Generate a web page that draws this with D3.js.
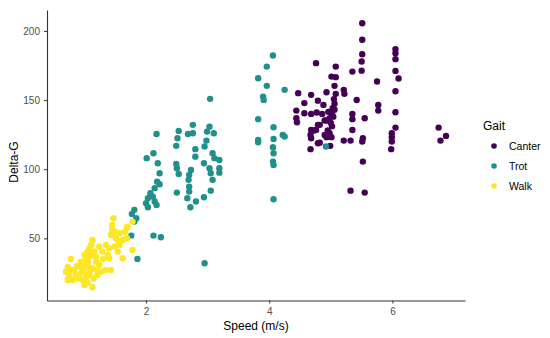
<!DOCTYPE html>
<html>
<head>
<meta charset="utf-8">
<script src="https://cdn.jsdelivr.net/npm/d3@7"></script>
<style>
  body { margin: 0; background: #fff; }
  text { font-family: "Liberation Sans", Arial, sans-serif; }
</style>
</head>
<body>
<div id="chart"></div>
<script>
// Gait categories and colours (viridis, 3 levels)
var gaits = ["Canter", "Trot", "Walk"];
var gaitColors = ["#440154", "#21908C", "#FDE725"];

// Walk points: speed (m/s) and Delta-G
var walkSpeed = [1.47, 1.45, 1.69, 1.49, 1.66, 1.43, 1.57, 1.51, 1.62, 1.69, 1.35, 1.40, 1.49, 1.57, 1.54, 1.62, 1.78, 1.13, 1.11, 1.08,
  1.24, 1.29, 1.38, 1.40, 1.05, 1.00, 1.02, 1.08, 1.13, 1.19, 1.19, 1.24, 1.21, 1.13, 1.05, 1.00, 0.97, 1.02, 1.08, 1.02,
  1.00, 1.13, 1.21, 1.34, 1.43, 0.78, 0.73, 0.70, 0.78, 0.83, 0.86, 0.75, 0.73, 0.81, 0.89, 0.92, 0.94, 0.97, 1.78, 1.70,
  0.92, 0.95, 1.16, 1.10, 1.30, 1.55, 1.45, 1.05, 0.88, 1.27, 1.06, 1.15];
var walkDeltaG = [64.5, 59.7, 58.0, 54.8, 54.8, 52.5, 53.7, 50.1, 48.8, 50.1, 45.2, 42.8, 44.0, 45.2, 40.4, 35.6, 41.6, 48.8, 45.2, 42.8,
  44.0, 40.4, 38.0, 35.6, 40.4, 38.0, 34.4, 36.8, 38.0, 36.8, 33.1, 30.8, 27.1, 28.4, 29.5, 30.8, 27.1, 24.7, 23.5, 21.1,
  16.3, 14.6, 23.5, 27.1, 27.1, 35.1, 29.1, 25.9, 27.1, 27.1, 23.5, 23.5, 19.9, 19.9, 21.1, 29.5, 33.1, 19.9, 62.1, 58.5,
  24.0, 31.0, 40.5, 27.0, 35.0, 48.0, 56.0, 18.0, 30.0, 26.0, 32.5, 21.0];

// Trot points
var trotSpeed = [2.17, 2.53, 2.51, 2.68, 2.76, 2.76, 3.03, 2.99, 3.10, 2.49, 2.80, 2.98, 2.95, 2.01, 2.12, 2.19, 2.49, 2.50, 2.53, 2.80,
  2.94, 3.08, 3.11, 3.19, 3.03, 3.05, 3.19, 3.19, 3.08, 2.73, 2.70, 2.69, 2.70, 2.70, 2.67, 2.72, 2.81, 2.94, 3.05, 2.50,
  2.22, 2.18, 2.22, 2.14, 2.07, 2.03, 2.11, 2.14, 2.17, 2.00, 2.03, 1.81, 1.77, 1.84, 1.81, 1.76, 2.12, 2.24, 3.04, 2.95,
  1.86, 4.06, 3.96, 3.82, 3.96, 4.25, 3.90, 3.91, 3.82, 3.82, 3.82, 4.07, 4.07, 4.22, 4.25, 4.06, 4.07, 4.06, 4.07, 4.07,
  4.92];
var trotDeltaG = [125.5, 127.7, 122.4, 125.5, 132.1, 126.0, 130.8, 127.2, 126.0, 116.9, 114.5, 120.7, 116.4, 108.0, 111.6, 104.3, 103.8, 100.7, 96.6, 109.1,
  104.3, 111.6, 108.0, 106.7, 100.7, 97.1, 100.7, 97.5, 92.3, 99.5, 95.9, 92.3, 87.4, 83.8, 79.0, 72.5, 76.6, 79.7, 84.5, 83.1,
  97.1, 91.0, 89.1, 86.3, 82.6, 79.0, 80.2, 76.6, 74.2, 75.4, 72.5, 70.6, 67.7, 64.5, 62.1, 52.0, 52.0, 50.8, 150.9, 32.0,
  35.1, 182.2, 174.2, 165.8, 160.3, 157.4, 152.5, 150.1, 136.2, 121.2, 119.5, 130.4, 121.9, 124.8, 123.6, 115.9, 111.6, 105.5, 103.1, 78.3,
  116.4];

// Canter points
var canterSpeed = [4.76, 4.47, 4.68, 4.57, 4.79, 4.44, 4.57, 4.68, 4.77, 4.44, 4.45, 4.68, 4.76, 4.67, 4.68, 4.79, 4.67, 4.79, 5.08, 5.35,
  5.50, 5.50, 5.01, 5.08, 5.06, 4.93, 5.08, 5.21, 5.22, 4.88, 5.05, 5.06, 5.42, 4.86, 5.03, 5.02, 4.98, 4.90, 5.35, 5.35,
  5.55, 4.82, 4.93, 4.71, 4.90, 4.98, 4.93, 5.01, 4.82, 4.99, 5.21, 5.32, 5.35, 5.52, 5.51, 5.51, 5.51, 5.75, 6.05, 6.05,
  6.05, 6.05, 6.10, 6.05, 5.77, 5.77, 6.05, 6.05, 5.99, 5.99, 5.99, 5.98, 5.52, 5.51, 5.55, 6.75, 6.87, 6.78, 5.32, 5.02,
  5.04, 5.00, 4.95, 5.06, 4.96];
var canterDeltaG = [176.7, 155.0, 153.8, 147.8, 149.6, 142.4, 140.5, 140.0, 141.0, 136.9, 134.0, 128.4, 128.4, 124.8, 122.4, 118.8, 114.5, 132.1, 174.2, 170.6,
  171.3, 177.9, 167.0, 166.6, 160.3, 155.7, 154.5, 157.4, 154.5, 146.5, 150.7, 147.3, 150.1, 140.0, 144.1, 140.0, 136.9, 135.2, 140.0, 136.2,
  136.9, 132.1, 135.2, 127.9, 124.8, 126.0, 123.2, 123.2, 119.2, 116.9, 120.7, 120.7, 128.4, 105.5, 205.6, 193.6, 183.2, 163.4, 186.8, 183.9,
  179.6, 171.1, 165.6, 156.4, 146.5, 142.4, 141.2, 130.1, 126.0, 123.2, 120.0, 114.5, 122.4, 120.0, 83.1, 130.1, 124.1, 120.7, 84.5, 131.0,
  138.0, 133.5, 128.0, 143.0, 141.5];

// axis ticks
var xTicks = [2, 4, 6];
var yTicks = [50, 100, 150, 200];

var W = 550, H = 338;
var margin = { top: 10, right: 85, bottom: 37.5, left: 47 };

var seriesSpeed = [canterSpeed, trotSpeed, walkSpeed];
var seriesDeltaG = [canterDeltaG, trotDeltaG, walkDeltaG];

var points = [];
gaits.forEach(function(g, i) {
  seriesSpeed[i].forEach(function(s, j) {
    points.push({ gait: g, speed: s, deltaG: seriesDeltaG[i][j] });
  });
});

// ggplot-like 5% expansion of the data range
function expand(ext) {
  var pad = (ext[1] - ext[0]) * 0.05;
  return [ext[0] - pad, ext[1] + pad];
}

var svg = d3.select("#chart").append("svg")
  .attr("width", W)
  .attr("height", H);

var x = d3.scaleLinear()
  .domain(expand(d3.extent(points, d => d.speed)))
  .range([margin.left, W - margin.right]);

var y = d3.scaleLinear()
  .domain(expand(d3.extent(points, d => d.deltaG)))
  .range([H - margin.bottom, margin.top]);

var color = d3.scaleOrdinal().domain(gaits).range(gaitColors);

// axes
var xAxis = svg.append("g")
  .attr("transform", `translate(0, ${H - margin.bottom})`)
  .call(d3.axisBottom(x).tickValues(xTicks).tickFormat(d3.format("d"))
    .tickSize(3).tickPadding(4).tickSizeOuter(0));

var yAxis = svg.append("g")
  .attr("transform", `translate(${margin.left}, 0)`)
  .call(d3.axisLeft(y).tickValues(yTicks).tickFormat(d3.format("d"))
    .tickSize(3).tickPadding(4).tickSizeOuter(0));

[xAxis, yAxis].forEach(function(ax) {
  ax.select(".domain").attr("stroke", "#333").attr("stroke-width", 1.1);
  ax.selectAll(".tick line").attr("stroke", "#333");
  ax.selectAll(".tick text")
    .attr("fill", "#4D4D4D")
    .attr("font-size", "10px")
    .attr("font-family", "Liberation Sans, Arial, sans-serif");
});

// points
svg.append("g").selectAll("circle")
  .data(points)
  .enter()
  .append("circle")
  .attr("cx", d => x(d.speed))
  .attr("cy", d => y(d.deltaG))
  .attr("r", 3.2)
  .attr("fill", d => color(d.gait));

// axis titles
svg.append("text")
  .attr("x", (margin.left + W - margin.right) / 2)
  .attr("y", 330)
  .attr("text-anchor", "middle")
  .attr("font-size", "12px")
  .attr("fill", "#000")
  .text("Speed (m/s)");

svg.append("text")
  .attr("transform", "translate(18, 162) rotate(-90)")
  .attr("text-anchor", "middle")
  .attr("font-size", "12px")
  .attr("fill", "#000")
  .text("Delta-G");

// legend
var legend = svg.append("g").attr("transform", "translate(483, 0)");

legend.append("text")
  .attr("x", 0)
  .attr("y", 130)
  .attr("font-size", "12px")
  .attr("fill", "#000")
  .text("Gait");

var items = legend.selectAll("g.item")
  .data(gaits)
  .enter()
  .append("g")
  .attr("class", "item")
  .attr("transform", (d, i) => `translate(0, ${146 + i * 20})`);

items.append("circle")
  .attr("cx", 11)
  .attr("cy", 0)
  .attr("r", 2.8)
  .attr("fill", d => color(d));

items.append("text")
  .attr("x", 26)
  .attr("y", 0)
  .attr("dy", "0.35em")
  .attr("font-size", "10.5px")
  .attr("fill", "#000")
  .text(d => d);
</script>
</body>
</html>
